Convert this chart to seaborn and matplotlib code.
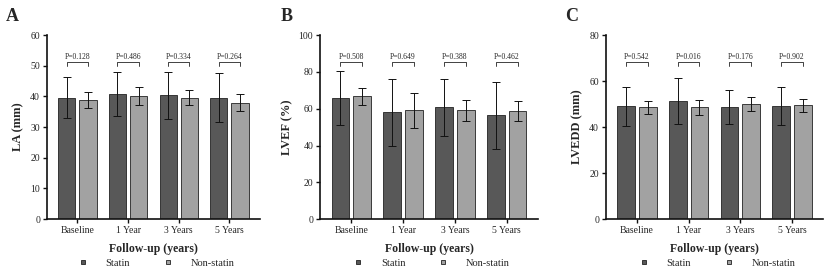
import numpy as np
import pandas as pd
import matplotlib
matplotlib.use('Agg')
import matplotlib.pyplot as plt
import matplotlib.transforms as mtransforms
from matplotlib.lines import Line2D
import seaborn as sns

# %%

timepoints = ['Baseline', '1 Year', '3 Years', '5 Years']
groups = ['Statin', 'Non-statin']

la_statin = [39.6, 40.8, 40.4, 39.6]
la_statin_sd = [6.6, 7.1, 7.7, 8.0]
la_nonstatin = [38.8, 40.2, 39.6, 38.0]
la_nonstatin_sd = [2.6, 2.9, 2.5, 2.7]
la_p = ['P=0.128', 'P=0.486', 'P=0.334', 'P=0.264']

lvef_statin = [65.9, 58.0, 60.7, 56.5]
lvef_statin_sd = [14.8, 18.1, 15.3, 18.3]
lvef_nonstatin = [66.7, 59.1, 59.1, 58.9]
lvef_nonstatin_sd = [4.6, 9.6, 5.9, 5.3]
lvef_p = ['P=0.508', 'P=0.649', 'P=0.388', 'P=0.462']

lvedd_statin = [49.0, 51.2, 48.6, 49.3]
lvedd_statin_sd = [8.3, 10.0, 7.4, 8.2]
lvedd_nonstatin = [48.7, 48.7, 50.0, 49.6]
lvedd_nonstatin_sd = [2.8, 3.3, 3.1, 2.8]
lvedd_p = ['P=0.542', 'P=0.016', 'P=0.176', 'P=0.902']

# %%

sns.set_style('ticks')
plt.rcParams['font.family'] = ['Liberation Serif', 'DejaVu Serif']

colors = ['#585858', '#a2a2a2']

panels = [
    ('A', 'LA (mm)', la_statin, la_statin_sd, la_nonstatin, la_nonstatin_sd, la_p, 60, 10),
    ('B', 'LVEF (%)', lvef_statin, lvef_statin_sd, lvef_nonstatin, lvef_nonstatin_sd, lvef_p, 100, 20),
    ('C', 'LVEDD (mm)', lvedd_statin, lvedd_statin_sd, lvedd_nonstatin, lvedd_nonstatin_sd, lvedd_p, 80, 20),
]
ax_left = [0.057, 0.388, 0.7345]
ax_width = [0.258, 0.264, 0.263]

fig = plt.figure(figsize=(8.25, 2.77), dpi=100)

for i, (letter, ylabel, s, s_sd, n, n_sd, pvals, ymax, ystep) in enumerate(panels):
    ax = fig.add_axes([ax_left[i], 0.209, ax_width[i], 0.664])
    df = pd.DataFrame({
        'time': timepoints * 2,
        'group': [groups[0]] * 4 + [groups[1]] * 4,
        'mean': s + n,
        'sd': s_sd + n_sd,
    })
    sns.barplot(data=df, x='time', y='mean', hue='group', order=timepoints,
                hue_order=groups, palette=colors, errorbar=None,
                width=0.84, gap=0.19, edgecolor='#222222', linewidth=0.6,
                legend=False, ax=ax)

    # error bars (mean +/- SD) on each bar
    for container, sds in zip(ax.containers, [s_sd, n_sd]):
        for bar, sd in zip(container, sds):
            xc = bar.get_x() + bar.get_width() / 2
            ax.errorbar(xc, bar.get_height(), yerr=sd, color='#111111',
                        elinewidth=0.7, capsize=3.2, capthick=0.7, zorder=5)

    # p-value brackets
    trans = mtransforms.blended_transform_factory(ax.transData, ax.transAxes)
    for j, p in enumerate(pvals):
        b0 = ax.containers[0][j]
        b1 = ax.containers[1][j]
        x0 = b0.get_x() + b0.get_width() / 2
        x1 = b1.get_x() + b1.get_width() / 2
        ax.plot([x0, x0, x1, x1], [0.833, 0.855, 0.855, 0.833], color='#222222',
                lw=0.6, transform=trans, clip_on=False)
        ax.text((x0 + x1) / 2, 0.862, p, transform=trans, ha='center',
                va='bottom', fontsize=5.5)

    ax.set_xlim(-0.6, 3.6)
    ax.set_ylim(0, ymax)
    ax.set_yticks(np.arange(0, ymax + 1, ystep))
    ax.set_ylabel(ylabel, fontsize=9, fontweight='bold', labelpad=4)
    ax.set_xlabel('Follow-up (years)', fontsize=8.5, fontweight='bold', labelpad=5.5)
    ax.tick_params(axis='both', labelsize=7, length=3, width=1, pad=2, color='#111111')
    for side in ['left', 'bottom']:
        ax.spines[side].set_linewidth(1.2)
        ax.spines[side].set_color('#111111')
    sns.despine(ax=ax)

    handles = [Line2D([], [], marker='s', ls='', markersize=3.5, markerfacecolor=c,
                      markeredgecolor='#222222', markeredgewidth=0.6) for c in colors]
    ax.legend(handles, groups, loc='center', bbox_to_anchor=(0.5, -0.24),
              ncol=2, frameon=False, fontsize=7.5, handletextpad=1.2,
              columnspacing=2.6, borderaxespad=0)

    fig.text(ax_left[i] - [0.05, 0.048, 0.05][i], 0.94, letter, fontsize=13,
             fontweight='bold', ha='left', va='center')

plt.savefig('out.png', dpi=100)
